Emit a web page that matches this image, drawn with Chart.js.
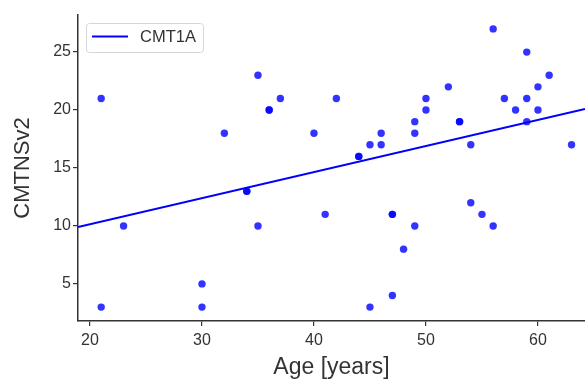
<!DOCTYPE html>
<html>
<head>
<meta charset="utf-8">
<script src="https://cdn.jsdelivr.net/npm/chart.js@4/dist/chart.umd.min.js"></script>
<style>
    html, body { margin: 0; padding: 0; background: #fff; }
    #wrap { width: 585px; height: 379px; }
</style>
</head>
<body>
<div id="wrap"><canvas id="chart"></canvas></div>
<script>
const ages = [21, 21, 23, 30, 30, 32, 34, 34, 35, 35, 36, 36, 37, 40, 41, 42, 44, 44, 45, 45, 46, 46,
    47, 47, 47, 48, 49, 49, 49, 50, 50, 52, 53, 53, 54, 54, 55, 56, 56, 57, 58, 59, 59, 59, 60, 60, 61, 63];
const scores = [21, 3, 10, 5, 3, 18, 13, 13, 23, 10, 20, 20, 21, 18, 11, 21, 16, 16, 17, 3, 18, 17,
    11, 11, 4, 8, 19, 18, 10, 21, 20, 22, 19, 19, 17, 12, 11, 27, 10, 21, 20, 25, 21, 19, 22, 20, 23, 17];
const fitAges = [18.93, 64.2];
const fitScores = [9.9, 20.1];
const xTicks = [20, 30, 40, 50, 60];
const yTicks = [5, 10, 15, 20, 25];
const seriesLabel = 'CMT1A';

const font = '"Liberation Sans", Arial, sans-serif';
const ink = '#333333';

// legend drawn inside the plot, upper left, like the original
const insideLegend = {
    id: 'insideLegend',
    afterDraw(chart) {
        const ctx = chart.ctx;
        const x = 86, y = 23, w = 117, h = 29;
        ctx.save();
        ctx.fillStyle = 'rgba(255,255,255,0.8)';
        ctx.strokeStyle = '#d6d6d6';
        ctx.lineWidth = 1;
        ctx.beginPath();
        ctx.roundRect(x + 0.5, y + 0.5, w, h, 3);
        ctx.fill();
        ctx.stroke();
        ctx.strokeStyle = '#0000ff';
        ctx.lineWidth = 2;
        ctx.beginPath();
        ctx.moveTo(92, 36.5);
        ctx.lineTo(128, 36.5);
        ctx.stroke();
        ctx.fillStyle = ink;
        ctx.font = '16.5px ' + font;
        ctx.textBaseline = 'middle';
        ctx.fillText(seriesLabel, 140, 37);
        ctx.restore();
    },
};

new Chart(document.getElementById('chart'), {
    type: 'scatter',
    data: {
        datasets: [
            {
                label: 'points',
                data: ages.map((a, i) => ({ x: a, y: scores[i] })),
                backgroundColor: 'rgba(0,0,255,0.8)',
                borderWidth: 0,
                pointRadius: 3.7,
                pointHoverRadius: 3.7,
            },
            {
                label: seriesLabel,
                type: 'line',
                data: fitAges.map((a, i) => ({ x: a, y: fitScores[i] })),
                borderColor: '#0000ff',
                borderWidth: 2,
                pointRadius: 0,
                fill: false,
            },
        ],
    },
    options: {
        responsive: true,
        maintainAspectRatio: false,
        animation: false,
        layout: {
            autoPadding: false,
            padding: { top: 15, right: 0, left: 0, bottom: 0 },
        },
        plugins: {
            legend: { display: false },
            tooltip: { enabled: false },
        },
        scales: {
            x: {
                type: 'linear',
                min: 18.93,
                max: 64.2,
                afterBuildTicks(scale) {
                    scale.ticks = xTicks.map((v) => ({ value: v }));
                },
                afterFit(scale) {
                    scale.height = 58;
                    scale.paddingLeft = 0;
                    scale.paddingRight = 0;
                },
                grid: {
                    drawOnChartArea: false,
                    drawTicks: true,
                    tickLength: 5,
                    color: ink,
                    lineWidth: 1.2,
                },
                border: { color: ink, width: 1.5 },
                ticks: {
                    color: ink,
                    font: { family: font, size: 16 },
                    padding: 5,
                    maxRotation: 0,
                },
                title: {
                    display: true,
                    text: 'Age [years]',
                    color: ink,
                    font: { family: font, size: 23, lineHeight: 1 },
                    padding: { top: 0, bottom: 0 },
                },
            },
            y: {
                type: 'linear',
                min: 1.8,
                max: 28.2,
                afterBuildTicks(scale) {
                    scale.ticks = yTicks.map((v) => ({ value: v }));
                },
                afterFit(scale) {
                    scale.width = 78;
                    scale.paddingTop = 0;
                    scale.paddingBottom = 0;
                },
                grid: {
                    drawOnChartArea: false,
                    drawTicks: true,
                    tickLength: 5,
                    color: ink,
                    lineWidth: 1.2,
                },
                border: { color: ink, width: 1.5 },
                ticks: {
                    color: ink,
                    font: { family: font, size: 16 },
                    padding: 2,
                },
                title: {
                    display: true,
                    text: 'CMTNSv2',
                    color: ink,
                    font: { family: font, size: 22, lineHeight: 1 },
                    padding: { top: 12, bottom: 0 },
                },
            },
        },
    },
    plugins: [insideLegend],
});
</script>
</body>
</html>
